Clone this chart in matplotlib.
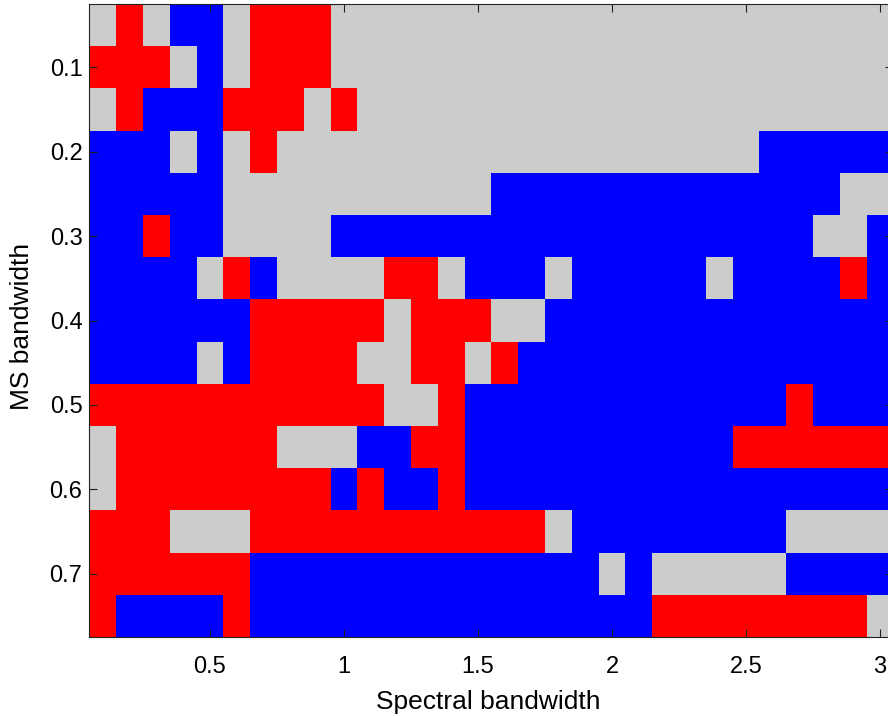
import numpy as np
import matplotlib
matplotlib.use("Agg")
import matplotlib.pyplot as plt
from matplotlib.colors import ListedColormap, BoundaryNorm

# Grid axes: spectral bandwidth (columns) and MS bandwidth (rows)
spectral_bw = [0.1, 0.2, 0.3, 0.4, 0.5, 0.6, 0.7, 0.8, 0.9, 1.0,
               1.1, 1.2, 1.3, 1.4, 1.5, 1.6, 1.7, 1.8, 1.9, 2.0,
               2.1, 2.2, 2.3, 2.4, 2.5, 2.6, 2.7, 2.8, 2.9, 3.0]
ms_bw = [0.05, 0.10, 0.15, 0.20, 0.25, 0.30, 0.35, 0.40,
         0.45, 0.50, 0.55, 0.60, 0.65, 0.70, 0.75]

# Winning class per (MS bandwidth, spectral bandwidth) cell:
# G = no difference, R = first method better, B = second method better
# (each row: spectral bandwidth 0.1-1.5 | 1.6-3.0)
outcome_rows = [
    "GRGBBGRRRGGGGGG" + "GGGGGGGGGGGGGGG",
    "RRRGBGRRRGGGGGG" + "GGGGGGGGGGGGGGG",
    "GRBBBRRRGRGGGGG" + "GGGGGGGGGGGGGGG",
    "BBBGBGRGGGGGGGG" + "GGGGGGGGGGBBBBB",
    "BBBBBGGGGGGGGGG" + "BBBBBBBBBBBBBGG",
    "BBRBBGGGGBBBBBB" + "BBBBBBBBBBBBGGB",
    "BBBBGRBGGGGRRGB" + "BBGBBBBBGBBBBRB",
    "BBBBBBRRRRRGRRR" + "GGBBBBBBBBBBBBB",
    "BBBBGBRRRRGGRRG" + "RBBBBBBBBBBBBBB",
    "RRRRRRRRRRRGGRB" + "BBBBBBBBBBBRBBB",
    "GRRRRRRGGGBBRRB" + "BBBBBBBBBRRRRRR",
    "GRRRRRRRRBRBBRB" + "BBBBBBBBBBBBBBB",
    "RRRGGGRRRRRRRRR" + "RRGBBBBBBBBGGGG",
    "RRRRRRBBBBBBBBB" + "BBBBGBGGGGGBBBB",
    "RBBBBRBBBBBBBBB" + "BBBBBBRRRRRRRRG",
]

class_codes = {"G": 0, "R": 1, "B": 2}
class_colors = ["#cccccc", "#ff0000", "#0000ff"]

x_ticks = [0.5, 1.0, 1.5, 2.0, 2.5, 3.0]
x_tick_labels = ["0.5", "1", "1.5", "2", "2.5", "3"]
y_ticks = [0.1, 0.2, 0.3, 0.4, 0.5, 0.6, 0.7]
y_tick_labels = ["0.1", "0.2", "0.3", "0.4", "0.5", "0.6", "0.7"]

plt.rcParams["font.family"] = ["Liberation Sans", "DejaVu Sans"]

grid = np.array([[class_codes[c] for c in row] for row in outcome_rows])
assert grid.shape == (len(ms_bw), len(spectral_bw))
xs = np.array(spectral_bw)
ys = np.array(ms_bw)
dx = xs[1] - xs[0]
dy = ys[1] - ys[0]
x_edges = np.concatenate([xs - dx / 2, [xs[-1] + dx / 2]])
y_edges = np.concatenate([ys - dy / 2, [ys[-1] + dy / 2]])

fig = plt.figure(figsize=(8.88, 7.16), dpi=100)
ax = fig.add_axes([89.4 / 888, 79 / 716, 804 / 888, 633 / 716])

cmap = ListedColormap(class_colors)
norm = BoundaryNorm([-0.5, 0.5, 1.5, 2.5], cmap.N)
ax.pcolormesh(x_edges, y_edges, grid, cmap=cmap, norm=norm,
              shading="flat", edgecolors="none", antialiased=False)

ax.set_xlim(x_edges[0], x_edges[-1])
ax.set_ylim(y_edges[-1], y_edges[0])

ax.set_xticks(x_ticks)
ax.set_xticklabels(x_tick_labels)
ax.set_yticks(y_ticks)
ax.set_yticklabels(y_tick_labels)

ax.tick_params(axis="both", direction="in", length=5.8, width=0.8,
               color="#222222", top=True, right=True, labelsize=17)
ax.tick_params(axis="x", pad=13.5)
ax.tick_params(axis="y", pad=5)
for spine in ax.spines.values():
    spine.set_linewidth(0.8)
    spine.set_color("#222222")

ax.set_xlabel("Spectral bandwidth", fontsize=19, va="baseline")
ax.xaxis.set_label_coords((488.3 - 89.4) / 804, -(709 - 637) / 633)
ax.set_ylabel("MS bandwidth", fontsize=19, va="center", ha="center")
ax.yaxis.set_label_coords((21.5 - 89.4) / 804, (637 - 326.5) / 633)

fig.savefig("out.png", dpi=100)
